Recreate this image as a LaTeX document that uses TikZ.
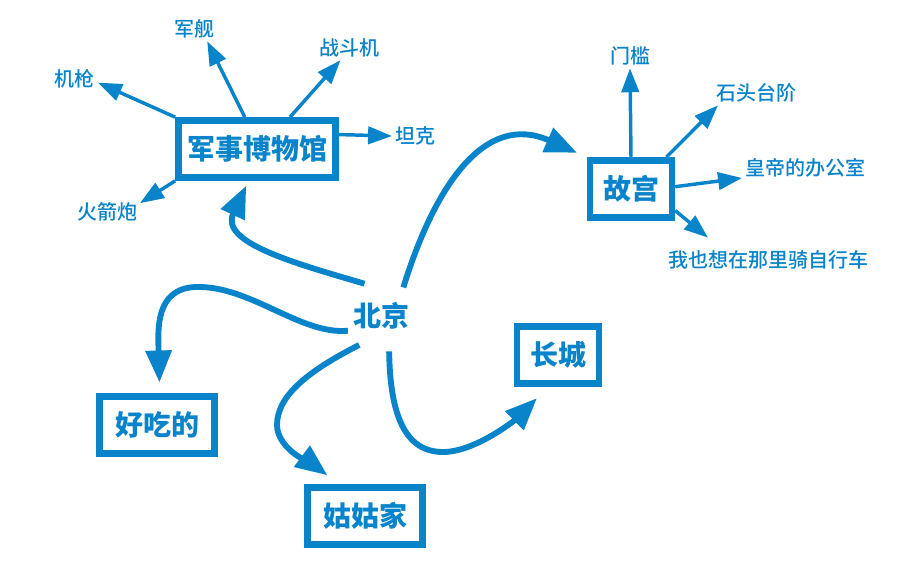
\documentclass[tikz,border=0pt]{standalone}
\usepackage{fontspec}
\setmainfont{Noto Sans CJK SC Medium}[BoldFont={Noto Sans CJK SC Black}]
\usetikzlibrary{arrows.meta}
\definecolor{mapblue}{RGB}{9,132,202}

\begin{document}
\begin{tikzpicture}[x=0.75pt,y=-0.75pt,
    box/.style={draw=mapblue,line width=4.8pt,text=mapblue,inner sep=0pt,
        minimum height=43pt,font=\bfseries\fontsize{21}{24}\selectfont},
    hub/.style={circle,minimum size=54pt,inner sep=0pt,text=mapblue,
        font=\bfseries\fontsize{21}{24}\selectfont},
    leaf/.style={text=mapblue,inner sep=2pt,font=\fontsize{15}{18}\selectfont},
    branch/.style={draw=mapblue,line width=4.4pt,-{Triangle[length=24pt,width=19pt]}},
    twig/.style={draw=mapblue,line width=2.6pt,-{Triangle[length=18pt,width=13pt]}}]
    \useasboundingbox (0,0) rectangle (897,576);
    % centre and the five boxes
    \node[hub] (bj) at (381,316) {北京};
    \node[box,minimum width=118pt] (jsb) at (257,149) {军事博物馆};
    \node[box,minimum width=61.5pt] (gg) at (631,189) {故宫};
    \node[box,minimum width=61.5pt] (cc) at (558,355) {长城};
    \node[box,minimum width=86pt] (hc) at (157,425) {好吃的};
    \node[box,minimum width=86pt] (gj) at (365,516) {姑姑家};
    % labels round the museum
    \node[leaf] (jq) at (75,79) {机枪};
    \node[leaf] (jj) at (194,29) {军舰};
    \node[leaf] (zdj) at (349,48) {战斗机};
    \node[leaf] (tk) at (415,136) {坦克};
    \node[leaf] (hjp) at (107,212) {火箭炮};
    % labels round the palace
    \node[leaf] (mk) at (630,56) {门槛};
    \node[leaf] (stj) at (756,93) {石头台阶};
    \node[leaf] (hd) at (805,168) {皇帝的办公室};
    \node[leaf] (zxc) at (768,260) {我也想在那里骑自行车};
    % curved branches out of the centre
    \draw[branch,shorten >=4pt] (bj.117) .. controls (290,262) and (220,242) .. (jsb.255);
    \draw[branch,shorten >=8pt] (bj.52) .. controls (435,185) and (485,112) .. (gg.north west);
    \draw[branch,shorten >=8pt] (bj.204) .. controls (300,335) and (250,285) .. (195,287)
        .. controls (155,289) and (158,330) .. (hc.85);
    \draw[branch,shorten >=11pt] (bj.233) .. controls (310,370) and (277,395) .. (277,425)
        .. controls (277,450) and (315,466) .. (gj.129);
    \draw[branch,shorten >=12pt] (bj.283) .. controls (390,415) and (405,452) .. (443,452)
        .. controls (475,452) and (515,420) .. (cc.253);
    % straight twigs
    \draw[twig] (jsb.north west) -- (jq.-9);
    \draw[twig] (jsb.111) -- (jj.-43);
    \draw[twig] (jsb.44) -- (zdj.-125);
    \draw[twig] (jsb.10) -- (tk.west);
    \draw[twig] (jsb.south west) -- (hjp.15);
    \draw[twig] (gg.north) -- (mk.south);
    \draw[twig] (gg.42) -- (stj.198);
    \draw[twig] (gg.3) -- (hd.-171);
    \draw[twig] (gg.-26) -- ([xshift=-45pt,yshift=7.5pt]zxc.north);
\end{tikzpicture}
\end{document}
